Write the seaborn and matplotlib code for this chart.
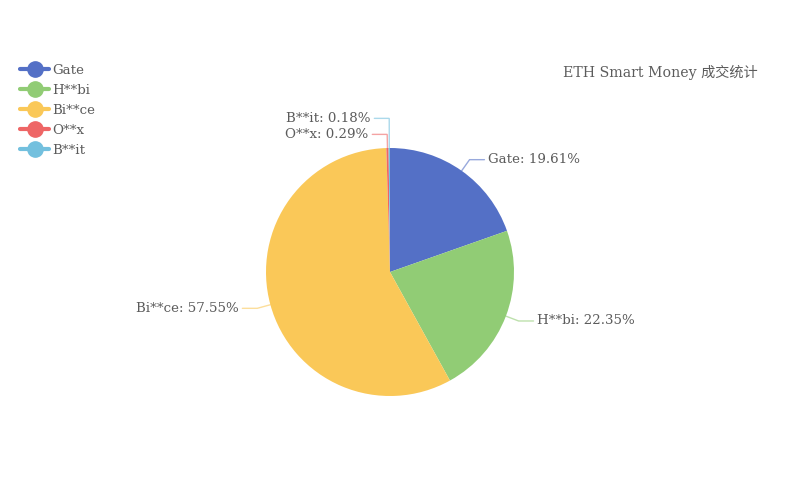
import numpy as np
import matplotlib
matplotlib.use("Agg")
import matplotlib.pyplot as plt
import seaborn as sns
from matplotlib.lines import Line2D

# data
exchanges = ["Gate", "H**bi", "Bi**ce", "O**x", "B**it"]
shares = [19.61, 22.35, 57.55, 0.29, 0.18]
colors = ["#5470c6", "#91cc75", "#fac858", "#ee6666", "#73c0de"]
title = "ETH Smart Money 成交统计"

sns.set_theme(style="white")
plt.rcParams["font.family"] = ["DejaVu Serif", "Noto Sans CJK SC"]
text_color = "#5c5c5c"
fs = 9.6

fig = plt.figure(figsize=(8, 5), dpi=100)
fig.patch.set_facecolor("white")

# pie axes: center (390, 272) px, radius 124 px
r_px = 124
ax = fig.add_axes([(390 - r_px) / 800, (500 - 272 - r_px) / 500, 2 * r_px / 800, 2 * r_px / 500])
ax.axis("off")

pal = sns.color_palette(colors)
wedges, _ = ax.pie(shares, colors=pal, startangle=90, counterclock=False,
                   radius=1, wedgeprops=dict(linewidth=0))
ax.set_xlim(-1, 1)
ax.set_ylim(-1, 1)

# labels with leader lines (ECharts style)
total = sum(shares)
start = 90.0
len1, len2, gap = 0.11, 0.12, 0.03
for i, (name, val) in enumerate(zip(exchanges, shares)):
    sweep = val / total * 360
    mid = np.deg2rad(start - sweep / 2)
    start -= sweep
    x0, y0 = np.cos(mid), np.sin(mid)
    x1, y1 = (1 + len1) * np.cos(mid), (1 + len1) * np.sin(mid)
    if name == "B**it":
        # pushed up to avoid overlapping the O**x label
        y1 = y1 + 16 / r_px
    side = 1 if x1 >= -0.02 and name not in ("O**x", "B**it") else -1
    x2 = x1 + side * len2
    ax.plot([x0, x1, x2], [y0, y1, y1], color=colors[i], alpha=0.6, lw=1,
            clip_on=False, solid_joinstyle="miter")
    ax.text(x2 + side * gap, y1, f"{name}: {val:.2f}%", ha="left" if side > 0 else "right",
            va="center", fontsize=fs, color=text_color, clip_on=False)

# legend
handles = [Line2D([0], [0], color=c, lw=3, marker="o", markersize=11,
                  markerfacecolor=c, markeredgecolor=c) for c in colors]
fig.legend(handles, exchanges, loc="upper left", bbox_to_anchor=(20 / 800, 1 - 64 / 500),
           frameon=False, fontsize=fs, labelcolor=text_color, handlelength=2.2,
           handletextpad=0.2, labelspacing=0.52, borderpad=0, borderaxespad=0)

fig.text(758 / 800, 1 - 72 / 500, title, ha="right", va="center", fontsize=10.2,
         color=text_color)

fig.savefig("out.png", dpi=100, facecolor="white")
